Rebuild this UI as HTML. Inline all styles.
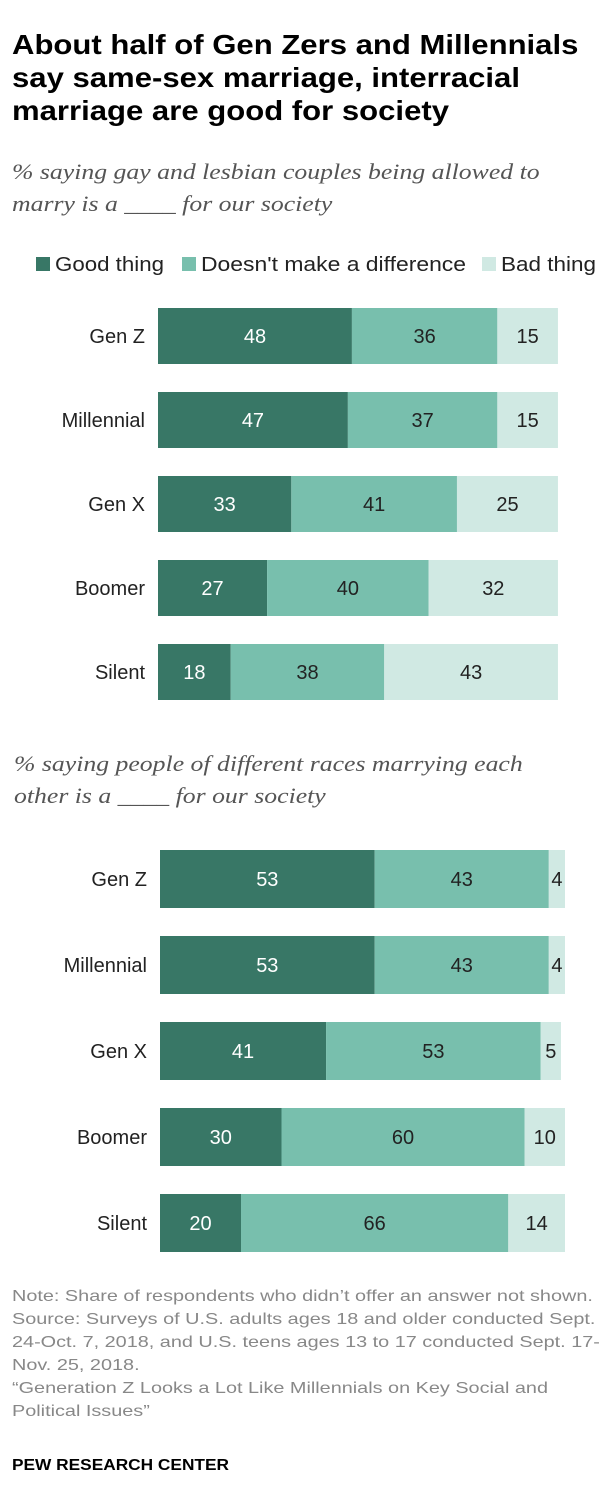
<!DOCTYPE html>
<html><head><meta charset="utf-8"><style>
body{margin:0;background:#fff;font-family:"Liberation Sans",sans-serif;}
#wrap{position:relative;width:616px;height:1512px;overflow:hidden}
.t{position:absolute;white-space:nowrap;transform-origin:0 0}
.title{left:12px;top:28px;font-size:28px;font-weight:bold;line-height:33px;color:#000;transform:scaleX(1.11)}
.sub{font-family:"Liberation Serif",serif;font-style:italic;font-size:22px;color:#555;line-height:32px;transform:scaleX(1.17)}
.note{left:12px;font-size:16px;color:#888;line-height:23px;transform:scaleX(1.24)}
</style></head><body>
<div id="wrap">
<div class="t title">About half of Gen Zers and Millennials<br>say same-sex marriage, interracial<br>marriage are good for society</div>
<div class="t sub" style="left:12px;top:156px">% saying gay and lesbian couples being allowed to<br>marry is a ____ for our society</div>
<div class="t sub" style="left:14px;top:748px">% saying people of different races marrying each<br>other is a ____ for our society</div>
<svg id="svg" width="616" height="1512" style="position:absolute;left:0;top:0"></svg>
<div class="t note" style="top:1285px">Note: Share of respondents who didn’t offer an answer not shown.<br>Source: Surveys of U.S. adults ages 18 and older conducted Sept.<br>24-Oct. 7, 2018, and U.S. teens ages 13 to 17 conducted Sept. 17-<br>Nov. 25, 2018.<br>“Generation Z Looks a Lot Like Millennials on Key Social and<br>Political Issues”</div>
<div class="t" style="left:12px;top:1457px;font-size:16px;font-weight:bold;color:#000;transform:scaleX(1.08)">PEW RESEARCH CENTER</div>
</div>
<script>
const categories=["Gen Z","Millennial","Gen X","Boomer","Silent"];
const good1=[48,47,33,27,18];
const neutral1=[36,37,41,40,38];
const bad1=[15,15,25,32,43];
const good2=[53,53,41,30,20];
const neutral2=[43,43,53,60,66];
const bad2=[4,4,5,10,14];
const legendLabels=["Good thing","Doesn't make a difference","Bad thing"];
const colors=["#387766","#78bfad","#d0e9e3"];
const txtColors=["#fff","#222","#222"];
const svg=document.getElementById('svg');
const NS="http://www.w3.org/2000/svg";
function el(tag,attrs,parent){const e=document.createElementNS(NS,tag);for(const k in attrs)e.setAttribute(k,attrs[k]);(parent||svg).appendChild(e);return e;}
const lx=[36,182,482];
const lw=[109,265,95];
legendLabels.forEach((l,i)=>{
  const r=el('rect',{x:lx[i],y:257,width:14,height:14,fill:colors[i]});
  
  
  const t=el('text',{x:lx[i]+19,y:271,'font-size':20,fill:'#222','font-family':'Liberation Sans, sans-serif',textLength:lw[i],lengthAdjust:'spacingAndGlyphs'});
  t.textContent=l;
  
  
});
function drawChart(series,x0,scale,y0,step,h){
  categories.forEach((c,i)=>{
    const yc=y0+i*step;
    const lab=el('text',{x:x0-13,y:yc+7,'font-size':20,fill:'#222','text-anchor':'end','font-family':'Liberation Sans, sans-serif'});
    lab.textContent=c;
    
    
    let x=x0;
    series.forEach((s,j)=>{
      const w=s[i]*scale;
      const r=el('rect',{x:x,y:yc-h/2,width:w,height:h,fill:colors[j]});
      
      
      const t=el('text',{x:x+w/2,y:yc+7,'font-size':20,fill:txtColors[j],'text-anchor':'middle','font-family':'Liberation Sans, sans-serif'});
      t.textContent=s[i];
      
      
      x+=w;
    });
  });
}
drawChart([good1,neutral1,bad1],158,4.04,336,84,56);
drawChart([good2,neutral2,bad2],160,4.05,879,86,58);
</script>
</body></html>
